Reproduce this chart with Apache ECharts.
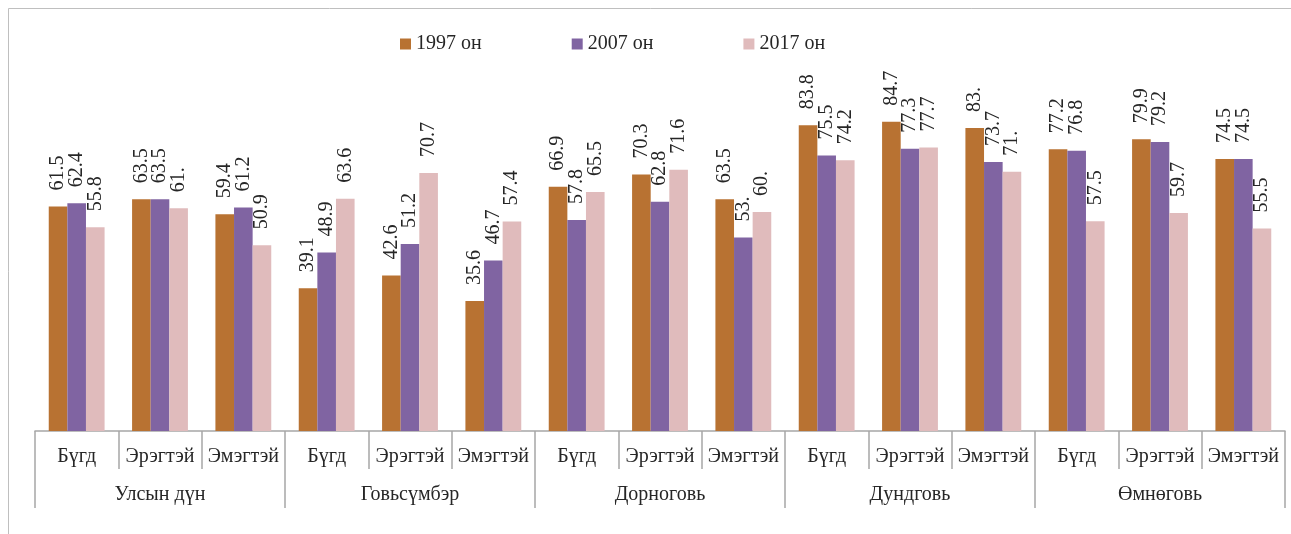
<!DOCTYPE html>
<html>
<head>
<meta charset="utf-8">
<script src="https://cdn.jsdelivr.net/npm/echarts@6/dist/echarts.min.js"></script>
<style>
  html, body { margin: 0; padding: 0; background: #fff; }
  #echartDom { width: 1291px; height: 534px; }
</style>
</head>
<body>
<div id="echartDom"></div>
<script>
// ангилал
const subCategories = ['Бүгд', 'Эрэгтэй', 'Эмэгтэй', 'Бүгд', 'Эрэгтэй', 'Эмэгтэй', 'Бүгд', 'Эрэгтэй', 'Эмэгтэй',
                       'Бүгд', 'Эрэгтэй', 'Эмэгтэй', 'Бүгд', 'Эрэгтэй', 'Эмэгтэй'];
const regions = ['Улсын дүн', 'Говьсүмбэр', 'Дорноговь', 'Дундговь', 'Өмнөговь'];

// утгууд
const seriesNames = ['1997 он', '2007 он', '2017 он'];
const data1997 = [61.5, 63.5, 59.4, 39.1, 42.6, 35.6, 66.9, 70.3, 63.5, 83.8, 84.7, 83, 77.2, 79.9, 74.5];
const data2007 = [62.4, 63.5, 61.2, 48.9, 51.2, 46.7, 57.8, 62.8, 53, 75.5, 77.3, 73.7, 76.8, 79.2, 74.5];
const data2017 = [55.8, 61, 50.9, 63.6, 70.7, 57.4, 65.5, 71.6, 60, 74.2, 77.7, 71, 57.5, 59.7, 55.5];

const colors = ['#B87232', '#8064A2', '#E0BBBC'];
const font = '"Liberation Serif", "DejaVu Serif", serif';
const gridColor = '#A6A6A6';

const myChart = echarts.init(document.getElementById('echartDom'));

//excel маягийн шошго: бүхэл тоонд цэг нэмнэ
function fmt(p) {
  const v = p.value;
  return Number.isInteger(v) ? v + '.' : String(v);
}

function makeSeries(name, data, color) {
  return {
    name: name,
    type: 'bar',
    data: data,
    xAxisIndex: 0,
    barGap: '0%',
    barCategoryGap: '33%',
    itemStyle: { color: color },
    label: {
      show: true,
      position: 'top',
      rotate: 90,
      align: 'left',
      verticalAlign: 'middle',
      distance: 16,
      fontFamily: font,
      fontSize: 20,
      color: '#262626',
      formatter: fmt
    }
  };
}

const option = {
  animation: false,
  textStyle: { fontFamily: font },
  graphic: [{
    type: 'rect',
    shape: { x: 8.5, y: 8.5, width: 1400, height: 700 },
    style: { fill: 'none', stroke: '#BFBFBF', lineWidth: 1 },
    silent: true
  }],
  legend: {
    left: 395,
    top: 29,
    itemWidth: 11,
    itemHeight: 11,
    itemGap: 90,
    icon: 'rect',
    textStyle: { fontFamily: font, fontSize: 20, color: '#262626' },
    data: seriesNames
  },
  grid: { left: 35, right: 6, top: 66, bottom: 103 },
  xAxis: [
    {
      type: 'category',
      data: subCategories,
      position: 'bottom',
      axisLine: { lineStyle: { color: gridColor, width: 1.5 } },
      axisTick: { show: true, interval: 0, length: 38, lineStyle: { color: gridColor, width: 1.5 } },
      axisLabel: { interval: 0, margin: 16, fontFamily: font, fontSize: 20, color: '#262626' }
    },
    {
      type: 'category',
      data: regions,
      position: 'bottom',
      offset: 0,
      axisLine: { show: false },
      axisTick: { show: true, interval: 0, length: 77, lineStyle: { color: gridColor, width: 1.5 } },
      axisLabel: { interval: 0, margin: 54, fontFamily: font, fontSize: 20, color: '#262626' }
    }
  ],
  yAxis: {
    type: 'value',
    min: 0,
    max: 100,
    show: false,
    splitLine: { show: false }
  },
  series: [
    makeSeries(seriesNames[0], data1997, colors[0]),
    makeSeries(seriesNames[1], data2007, colors[1]),
    makeSeries(seriesNames[2], data2017, colors[2])
  ]
};

myChart.setOption(option);
</script>
</body>
</html>
